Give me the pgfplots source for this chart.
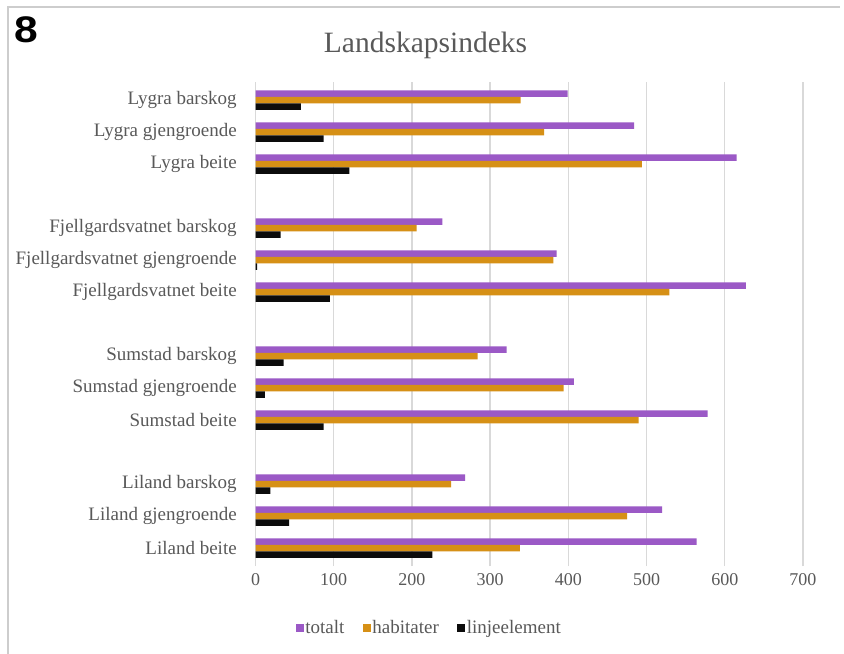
\documentclass[border=0pt]{standalone}
\usepackage{fontspec}
\setmainfont{Liberation Serif}
\newfontfamily\numfont{Liberation Sans}
\usepackage{pgfplots}
\pgfplotsset{compat=1.18}
\usepackage{pgfplotstable}

\definecolor{tot}{RGB}{155,89,198}
\definecolor{hab}{RGB}{214,144,22}
\definecolor{lin}{RGB}{12,12,12}
\definecolor{txt}{RGB}{89,89,89}
\definecolor{grd}{RGB}{217,217,217}
\definecolor{frame}{RGB}{205,205,205}

% pos: row on the category axis (gaps between the four sites)
\pgfplotstableread{
pos totalt habitater linje
0   564    338       226
1   520    475       43
2   268    250       19
4   578    490       87
5   407    394       12
6   321    284       36
8   627    529       95
9   385    381       2
10  239    206       32
12  615    494       120
13  484    369       87
14  399    339       58
}\landskap

\begin{document}
\begin{tikzpicture}
\useasboundingbox (0,0) rectangle (844bp,-654bp);
\fill[white] (0,0) rectangle (844bp,-654bp);
% outer frame
\draw[frame, line width=2bp] (7.5bp,-654bp) -- (7.5bp,-7bp) -- (840bp,-7bp);
\node[font=\numfont\bfseries\fontsize{37bp}{40bp}\selectfont, anchor=base west, inner sep=0pt, xscale=1.15]
  at (14bp,-42bp) {8};
\node[font=\fontsize{29.5bp}{32bp}\selectfont, text=txt, anchor=base, inner sep=0pt]
  at (425.5bp,-52bp) {Landskapsindeks};

\begin{axis}[
  at={(255.5bp,-566bp)}, anchor=south west,
  scale only axis, width=547.5bp, height=484bp,
  xmin=0, xmax=700, ymin=-0.5625, ymax=14.5625,
  xbar, bar width=6.5bp,
  axis line style={draw=none},
  tick style={draw=none},
  xmajorgrids, grid style={grd, line width=1.3bp},
  xtick={0,100,...,700},
  /pgf/number format/assume math mode=true,
  xticklabel style={font=\fontsize{18bp}{20bp}\selectfont, text=txt, yshift=-4bp},
  ytick={0,1,2,4,5,6,8,9,10,12,13,14},
  yticklabels={Liland beite, Liland gjengroende, Liland barskog,
    Sumstad beite, Sumstad gjengroende, Sumstad barskog,
    Fjellgardsvatnet beite, Fjellgardsvatnet gjengroende, Fjellgardsvatnet barskog,
    Lygra beite, Lygra gjengroende, Lygra barskog},
  yticklabel style={font=\fontsize{19bp}{21bp}\selectfont, text=txt, xshift=-11bp},
  legend columns=3,
  legend image code/.code={\fill[#1] (0bp,-4bp) rectangle (8bp,4bp);},
  legend style={at={(0.317,-0.128)}, anchor=center, draw=none, fill=none,
    inner sep=0pt, font=\fontsize{19bp}{21bp}\selectfont, text=txt,
    nodes={inner sep=1.5bp},
    /tikz/every even column/.append style={column sep=17bp}},
]
\addplot[fill=tot, draw=none, bar shift=6.5bp] table[x=totalt, y=pos] {\landskap};
\addplot[fill=hab, draw=none, bar shift=0bp] table[x=habitater, y=pos] {\landskap};
\addplot[fill=lin, draw=none, bar shift=-6.5bp] table[x=linje, y=pos] {\landskap};
\legend{totalt, habitater, linjeelement}
\end{axis}
\end{tikzpicture}
\end{document}
